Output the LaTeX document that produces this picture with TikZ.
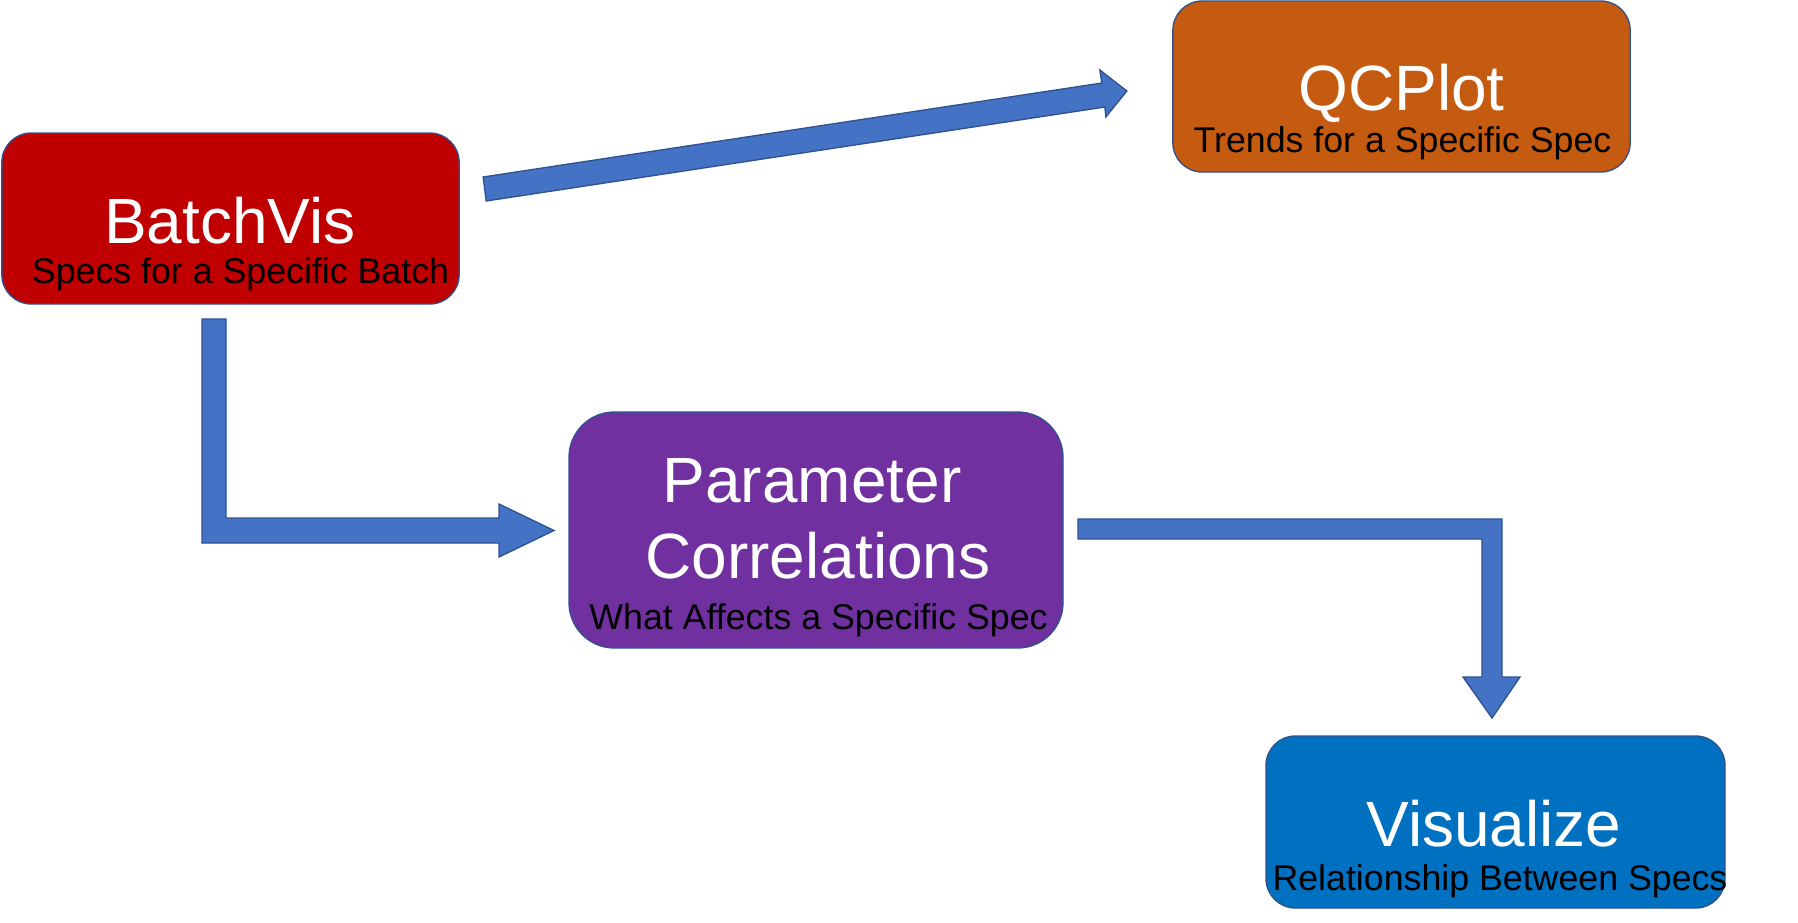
\documentclass[tikz,border=0pt]{standalone}
\usepackage{fontspec}
\setmainfont{Liberation Sans}
\usetikzlibrary{calc}
\definecolor{bvRed}{HTML}{C00000}
\definecolor{qcOrange}{HTML}{C55A11}
\definecolor{pcPurple}{HTML}{7030A0}
\definecolor{vzBlue}{HTML}{0070C0}
\definecolor{flowBlue}{HTML}{4472C4}
\definecolor{edgeBlue}{HTML}{2F528F}

\begin{document}
\begin{tikzpicture}[x=0.75pt, y=-0.75pt,
  box/.style={draw=edgeBlue, line width=1pt, rounded corners=22pt, inner sep=0pt, outer sep=0pt, minimum width=343pt, minimum height=128.25pt},
  ttl/.style={anchor=base, text=white, inner sep=0pt, font=\fontsize{48}{57}\selectfont},
  sub/.style={anchor=base, text=black, inner sep=0pt, font=\fontsize{26.8}{32}\selectfont},
  blk/.style={fill=flowBlue, draw=edgeBlue, line width=1pt, line join=miter}]
\path[use as bounding box] (0,0) rectangle (1798,922);

% boxes
\node[box, fill=bvRed] (batch) at (230.5,218.5) {};
\node[box, fill=qcOrange] (qc) at (1401.5,86.5) {};
\node[box, fill=pcPurple, minimum width=370.5pt, minimum height=177pt, rounded corners=34pt] (par) at (816,530) {};
\node[box, fill=vzBlue, minimum width=344.25pt, minimum height=129pt] (vis) at (1495.5,822) {};

% arrow ends
\coordinate (b-right)   at ($(batch.east)+(25.5,-29.5)$);
\coordinate (qc-left)   at ($(qc.west)+(-46,4.5)$);
\coordinate (b-down)    at ($(batch.south)+(-16.5,15)$);
\coordinate (par-left)  at ($(par.west)+(-15,0.5)$);
\coordinate (par-right) at ($(par.east)+(15,-1)$);
\coordinate (vis-top)   at ($(vis.north)+(-3.5,-18)$);

% BatchVis -> QCPlot
\draw[blk] ($(b-right)+(-1.5,-12)$) -- ($(qc-left)+(-25,-8)$) -- ($(qc-left)+(-27,-21)$) -- (qc-left)
  -- ($(qc-left)+(-21,26)$) -- ($(qc-left)+(-22,16)$) -- ($(b-right)+(1.5,12)$) -- cycle;
% BatchVis -> Parameter Correlations
\draw[blk] ($(b-down)+(-12,0)$) -- ($(b-down)+(12,0)$) -- ($(par-left)+(-328,-12.5)$) -- ($(par-left)+(-55,-12.5)$)
  -- ($(par-left)+(-55,-26.5)$) -- (par-left) -- ($(par-left)+(-55,26.5)$) -- ($(par-left)+(-55,12.5)$)
  -- ($(par-left)+(-352,12.5)$) -- cycle;
% Parameter Correlations -> Visualize
\draw[blk] ($(par-right)+(0,-10)$) -- ($(vis-top)+(10,-199)$) -- ($(vis-top)+(10,-41)$) -- ($(vis-top)+(28,-41)$)
  -- (vis-top) -- ($(vis-top)+(-29,-41)$) -- ($(vis-top)+(-10,-41)$) -- ($(vis-top)+(-10,-179)$)
  -- ($(par-right)+(0,10)$) -- cycle;

% texts
\node[ttl] (batch-t) at (230,243) {BatchVis};
\node[sub] (batch-s) at (240.5,283) {Specs for a Specific Batch};
\node[ttl] (qc-t) at (1401.5,110) {QCPlot};
\node[sub] (qc-s) at (1402.5,152) {Trends for a Specific Spec};
\node[ttl] (par-t1) at (812,502) {Parameter};
\node[ttl] (par-t2) at (818,578) {Correlations};
\node[sub] (par-s) at (818.5,629) {What Affects a Specific Spec};
\node[ttl] (vis-t) at (1494,846) {Visualize};
\node[sub] (vis-s) at (1500,890) {Relationship Between Specs};
\end{tikzpicture}
\end{document}
